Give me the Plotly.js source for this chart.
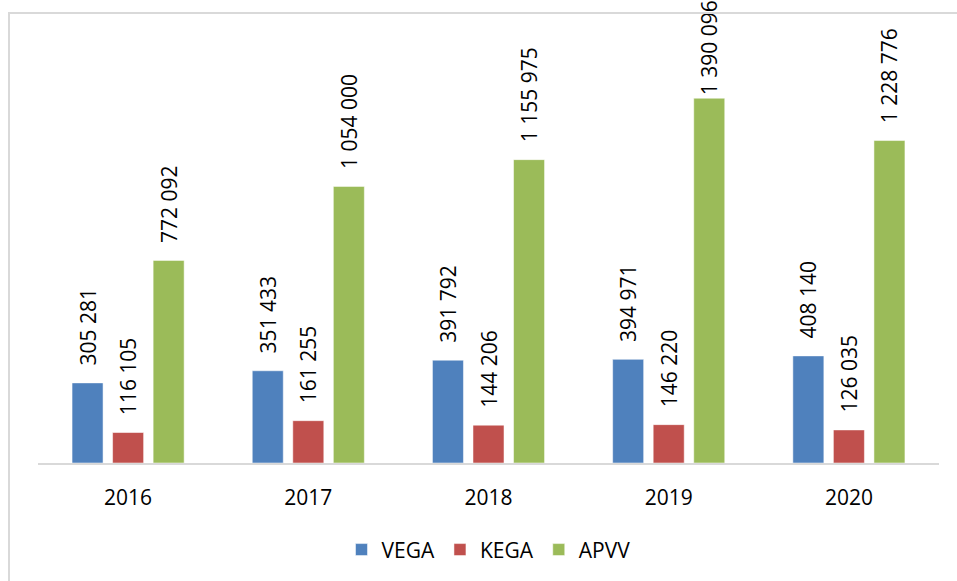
<!DOCTYPE html>
<html>
<head>
<meta charset="utf-8">
<script src="https://cdn.plot.ly/plotly-3.0.1.min.js"></script>
<style>
  html, body { margin: 0; padding: 0; background: #ffffff; }
  #chart { width: 957px; height: 581px; position: relative; }
  #frame { position: absolute; left: 8px; top: 12px; width: 980px; height: 600px;
           border: 2px solid #d9d9d9; pointer-events: none; z-index: 10; box-sizing: border-box; }
</style>
</head>
<body>
<div id="frame"></div>
<div id="chart"></div>
<script>
const years = ['2016', '2017', '2018', '2019', '2020'];
const vega = [305281, 351433, 391792, 394971, 408140];
const kega = [116105, 161255, 144206, 146220, 126035];
const apvv = [772092, 1054000, 1155975, 1390096, 1228776];
const seriesNames = ['VEGA', 'KEGA', 'APVV'];
const seriesColors = ['#4F81BD', '#C0504D', '#9BBB59'];
const yMax = 1650000;

function fmt(v) {
  return String(v).replace(/\B(?=(\d{3})+(?!\d))/g, ' ');
}
// leading non-breaking spaces give the gap between bar top and label;
// labels that would run off the top of the page get no gap
function label(v) {
  const pad = (v / yMax < 0.8) ? '\u00a0\u00a0\u2009' : '';
  return pad + fmt(v);
}

const FONT = 'Open Sans, Liberation Sans, Arial, sans-serif';
const data = [vega, kega, apvv].map((vals, i) => ({
  type: 'bar',
  name: seriesNames[i],
  x: years,
  y: vals,
  text: vals.map(label),
  textposition: 'outside',
  textangle: -90,
  constraintext: 'none',
  cliponaxis: false,
  textfont: { family: FONT, size: 21, color: '#000000' },
  marker: { color: seriesColors[i], line: { color: 'rgba(255,255,255,0.5)', width: 1 } },
  hoverinfo: 'x+y+name'
}));

const layout = {
  width: 957,
  height: 581,
  margin: { l: 38, r: 18, t: 30, b: 117 },
  paper_bgcolor: '#ffffff',
  plot_bgcolor: '#ffffff',
  barmode: 'group',
  bargap: 0.325,
  bargroupgap: 0.235,
  font: { family: FONT, size: 21, color: '#000000' },
  showlegend: true,
  legend: {
    orientation: 'h',
    x: 0.5, xanchor: 'center',
    y: -0.198, yanchor: 'middle',
    font: { family: FONT, size: 21, color: '#000000' },
    itemwidth: 30,
    traceorder: 'normal'
  },
  xaxis: {
    type: 'category',
    showline: true,
    linecolor: '#d9d9d9',
    linewidth: 2,
    ticks: '',
    ticklabelstandoff: 15,
    showgrid: false,
    zeroline: false,
    tickfont: { family: FONT, size: 21, color: '#000000' }
  },
  yaxis: {
    range: [0, yMax],
    visible: false,
    showgrid: false,
    zeroline: false
  }
};

Plotly.newPlot('chart', data, layout, { displayModeBar: false, staticPlot: true });
</script>
</body>
</html>
